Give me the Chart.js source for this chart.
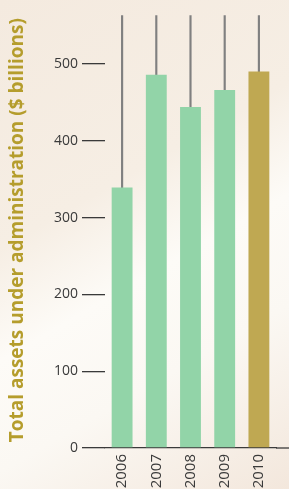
<!DOCTYPE html>
<html>
<head>
<meta charset="utf-8">
<script src="https://cdn.jsdelivr.net/npm/chart.js@4/dist/chart.umd.min.js"></script>
<style>
  html, body { margin: 0; padding: 0; }
  body {
    width: 289px;
    height: 489px;
    overflow: hidden;
    background: linear-gradient(150deg, #f4eadf 0%, #f6eee4 38%, #fdfbf7 55%, #fbf8f3 72%, #f3e7dc 100%);
  }
  #wrap { width: 289px; height: 489px; }
</style>
</head>
<body>
<div id="wrap"><canvas id="assetsChart" width="289" height="489"></canvas></div>
<script>
// Total assets under administration, $ billions
const years = ['2006', '2007', '2008', '2009', '2010'];
const assets = [339, 486, 444, 466, 490];
const rangeTop = [563, 563, 563, 563, 563];
const yTicks = [0, 100, 200, 300, 400, 500];
const barColors = ['#92d4a8', '#92d4a8', '#92d4a8', '#92d4a8', '#bfa852'];

const textColor = '#3a3a3a';

// extends the zero line out to the right edge of the canvas
const baselinePlugin = {
    id: 'baseline',
    afterDraw(chart) {
        const y = chart.scales.y.getPixelForValue(0);
        const ctx = chart.ctx;
        ctx.save();
        ctx.strokeStyle = textColor;
        ctx.lineWidth = 1.3;
        ctx.beginPath();
        ctx.moveTo(chart.chartArea.right, y);
        ctx.lineTo(chart.width, y);
        ctx.stroke();
        ctx.restore();
    }
};

const ctx = document.getElementById('assetsChart');

window.assetsChart = new Chart(ctx, {
    type: 'bar',
    data: {
        labels: years,
        datasets: [{
            data: assets,
            backgroundColor: barColors,
            borderWidth: 0,
            barPercentage: 0.61,
            categoryPercentage: 1,
            grouped: false,
            order: 1
        }, {
            data: assets.map((v, i) => [v, rangeTop[i]]),
            backgroundColor: '#808080',
            borderWidth: 0,
            barThickness: 1.5,
            grouped: false,
            order: 2
        }]
    },
    options: {
        responsive: false,
        animation: false,
        layout: {
            padding: { top: 6, right: 13, bottom: 0, left: 6 }
        },
        scales: {
            y: {
                min: 0,
                max: 567,
                afterBuildTicks: (scale) => {
                    scale.ticks = yTicks.map(v => ({ value: v }));
                },
                afterFit: (scale) => {
                    scale.width = 99;
                },
                ticks: {
                    color: textColor,
                    padding: 4,
                    font: { family: 'Open Sans', size: 14 }
                },
                grid: {
                    drawOnChartArea: false,
                    tickLength: 23,
                    color: textColor,
                    lineWidth: 1.3
                },
                border: { display: false },
                title: {
                    display: true,
                    text: 'Total assets under administration ($ billions)',
                    color: '#b59d2c',
                    padding: { top: 0, bottom: 0 },
                    font: { family: 'Open Sans', size: 19, weight: 'bold' }
                }
            },
            x: {
                afterFit: (scale) => {
                    scale.height = 41;
                },
                grid: { display: false, drawTicks: false },
                border: { color: textColor, width: 1.3 },
                ticks: {
                    color: textColor,
                    padding: 6,
                    maxRotation: 90,
                    minRotation: 90,
                    font: { family: 'Open Sans', size: 15 }
                }
            }
        },
        plugins: {
            legend: { display: false },
            tooltip: { enabled: false }
        }
    },
    plugins: [baselinePlugin]
});
</script>
</body>
</html>
